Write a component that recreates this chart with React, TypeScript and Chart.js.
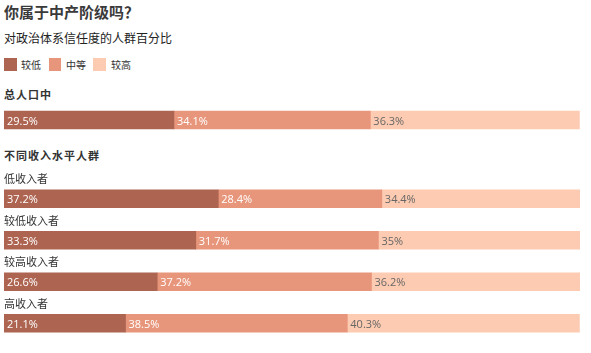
import React, { useEffect, useRef } from "react";
import { Chart, registerables } from "chart.js";
Chart.register(...registerables);

const titleText = "你属于中产阶级吗？";
const subtitleText = "对政治体系信任度的人群百分比";
const levels = ["较低", "中等", "较高"];
const colors = ["#AD6450", "#E8967B", "#FDCBB1"];

const totalHeader = "总人口中";
const totalLabels = ["总人口中"];
const totalLow = [29.5];
const totalMid = [34.1];
const totalHigh = [36.3];

const incomeHeader = "不同收入水平人群";
const incomeLabels = ["低收入者", "较低收入者", "较高收入者", "高收入者"];
const incomeLow = [37.2, 33.3, 26.6, 21.1];
const incomeMid = [28.4, 31.7, 37.2, 38.5];
const incomeHigh = [34.4, 35, 36.2, 40.3];

const CJK = "'Noto Sans CJK SC', 'Noto Sans', sans-serif";

const valueLabels = {
  id: "valueLabels",
  afterDatasetsDraw(chart: any) {
    const ctx = chart.ctx;
    ctx.save();
    ctx.font = "11px 'Open Sans', 'Noto Sans', sans-serif";
    ctx.textBaseline = "middle";
    ctx.textAlign = "left";
    chart.data.datasets.forEach((ds: any, di: number) => {
      const meta = chart.getDatasetMeta(di);
      meta.data.forEach((el: any, i: number) => {
        const p = el.getProps(["x", "y", "base"], true);
        ctx.fillStyle = di < 2 ? "#ffffff" : "#666666";
        ctx.fillText(ds.data[i] + "%", Math.min(p.x, p.base) + 3, p.y + 1.5);
      });
    });
    ctx.restore();
  },
};

const rowLabels = {
  id: "rowLabels",
  afterDatasetsDraw(chart: any, _args: any, opts: any) {
    if (!opts || !opts.show) return;
    const ctx = chart.ctx;
    ctx.save();
    ctx.font = "11px " + CJK;
    ctx.fillStyle = "#333333";
    ctx.textBaseline = "middle";
    ctx.textAlign = "left";
    const meta = chart.getDatasetMeta(0);
    meta.data.forEach((el: any, i: number) => {
      ctx.fillText(chart.data.labels[i], 4, el.y - 19.5);
    });
    ctx.restore();
  },
};

function makeConfig(labels: string[], low: number[], mid: number[], high: number[], padTop: number, padBottom: number, showRows: boolean): any {
  const series = [low, mid, high];
  return {
    type: "bar",
    data: {
      labels,
      datasets: series.map((d, i) => ({
        label: levels[i],
        data: d,
        backgroundColor: colors[i],
        borderWidth: 0,
        barThickness: 18,
      })),
    },
    options: {
      indexAxis: "y",
      responsive: false,
      maintainAspectRatio: false,
      animation: false,
      layout: { padding: { left: 4, right: 11, top: padTop, bottom: padBottom } },
      scales: {
        x: { stacked: true, min: 0, max: 100, display: false },
        y: { stacked: true, display: false },
      },
      plugins: {
        legend: { display: false },
        tooltip: { enabled: false },
        title: { display: false },
        rowLabels: { show: showRows },
      },
    },
    plugins: [valueLabels, rowLabels],
  };
}

export default function App() {
  const refA = useRef<HTMLCanvasElement>(null);
  const refB = useRef<HTMLCanvasElement>(null);
  useEffect(() => {
    const a = new Chart(refA.current as any, makeConfig(totalLabels, totalLow, totalMid, totalHigh, 0, 0, false));
    const b = new Chart(refB.current as any, makeConfig(incomeLabels, incomeLow, incomeMid, incomeHigh, 38, 9, true));
    return () => {
      a.destroy();
      b.destroy();
    };
  }, []);

  const abs = (o: any): any => ({ position: "absolute", margin: 0, padding: 0, whiteSpace: "nowrap", ...o });

  return (
    <div style={{ position: "absolute", left: 0, top: 0, width: 591, height: 353, background: "#fff", overflow: "hidden", fontFamily: CJK }}>
      <div style={abs({ left: 4, top: 4, fontSize: 15, lineHeight: "15px", fontWeight: 700, color: "#3a3a3a" })}>{titleText}</div>
      <div style={abs({ left: 4, top: 32, fontSize: 12, lineHeight: "12px", color: "#222" })}>{subtitleText}</div>
      {levels.map((l, i) => (
        <React.Fragment key={l}>
          <div style={abs({ left: 4 + i * 44.5, top: 58, width: 12.5, height: 12.5, background: colors[i] })} />
          <div style={abs({ left: 21 + i * 45, top: 59.5, fontSize: 10, lineHeight: "10px", color: "#333" })}>{l}</div>
        </React.Fragment>
      ))}
      <div style={abs({ left: 4, top: 89, fontSize: 11, lineHeight: "11px", fontWeight: 700, color: "#333", letterSpacing: 1 })}>{totalHeader}</div>
      <div style={abs({ left: 4, top: 150, fontSize: 11, lineHeight: "11px", fontWeight: 700, color: "#333", letterSpacing: 1 })}>{incomeHeader}</div>
      <canvas ref={refA} width={591} height={40} style={abs({ left: 0, top: 100, width: 591, height: 40 })} />
      <canvas ref={refB} width={591} height={213} style={abs({ left: 0, top: 140, width: 591, height: 213 })} />
    </div>
  );
}
